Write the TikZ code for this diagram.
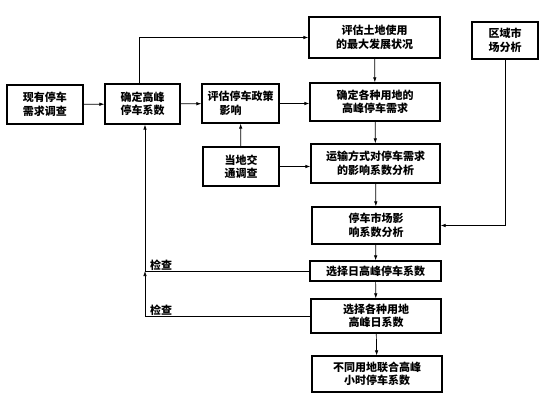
\documentclass[tikz,border=0pt]{standalone}
\usepackage{fontspec}
\newfontfamily\cjk{Noto Sans CJK SC}
\usetikzlibrary{arrows.meta}
\begin{document}
\begin{tikzpicture}[x=1pt,y=-1pt,
  box/.style={draw,line width=1.2pt,inner sep=0pt,align=center,
    font=\cjk\bfseries\fontsize{11}{13.5}\selectfont},
  conn/.style={line width=0.7pt,-{Latex[length=5pt,width=3.5pt]}},
  lbl/.style={font=\cjk\bfseries\fontsize{11}{13}\selectfont,inner sep=0pt,anchor=west}]
\useasboundingbox (0,0) rectangle (544,401);
\node[box,minimum width=76pt,minimum height=39pt] (a) at (45,104.5) {现有停车\\需求调查};
\node[box,minimum width=75pt,minimum height=40pt] (b) at (142.5,104) {确定高峰\\停车系数};
\node[box,minimum width=77pt,minimum height=39pt,align=left] (c) at (240.5,103.5) {评估停车政策\\\hspace*{12pt}影响};
\node[box,minimum width=76pt,minimum height=39pt] (d) at (241,166.5) {当地交\\通调查};
\node[box,minimum width=131pt,minimum height=41pt] (e) at (374.5,37.5) {评估土地使用\\的最大发展状况};
\node[box,minimum width=66pt,minimum height=37pt] (f) at (505,40.5) {区域市\\场分析};
\node[box,minimum width=130pt,minimum height=38pt] (g) at (375,102) {确定各种用地的\\高峰停车需求};
\node[box,minimum width=129pt,minimum height=39pt] (h) at (375.5,163.5) {运输方式对停车需求\\的影响系数分析};
\node[box,minimum width=128pt,minimum height=37pt] (i) at (376,225.5) {停车市场影\\响系数分析};
\node[box,minimum width=131pt,minimum height=20pt] (j) at (375.5,271) {选择日高峰停车系数};
\node[box,minimum width=130pt,minimum height=34pt] (k) at (376,316) {选择各种用地\\高峰日系数};
\node[box,minimum width=130pt,minimum height=36pt] (l) at (377,374) {不同用地联合高峰\\小时停车系数};
\coordinate (bs) at ([xshift=2.5pt]b.south);
\coordinate (bn) at ([xshift=-3pt]b.north);
\coordinate (jj) at (bs |- j.west);
\draw[conn] (a) -- (b);
\draw[conn] (b) -- (c);
\draw[conn] (bn) |- (e.west);
\draw[conn] (c.east) -- (c.east -| g.west);
\draw[conn] (d) -- (c);
\draw[conn] (d.east) -- (d.east -| h.west);
\draw[conn] (e) -- (g);
\draw[conn] (g) -- (h);
\draw[conn] (h) -- (i);
\draw[conn] (f.south) |- (i.east);
\draw[conn] (i) -- (j);
\draw[conn] (j) -- (k);
\draw[conn] (k) -- (l);
\draw[conn] (j.west) -| (bs);
\draw[conn] (k.west) -| (jj);
\node[lbl] (c1) at (150,265) {检查};
\node[lbl] (c2) at (150,310) {检查};
\end{tikzpicture}
\end{document}
